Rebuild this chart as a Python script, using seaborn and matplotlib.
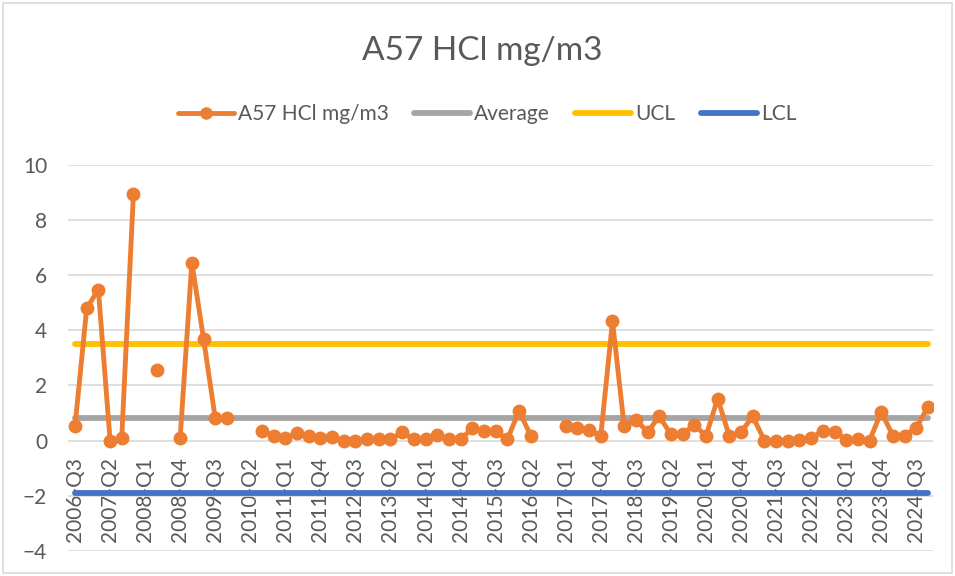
import numpy as np
import pandas as pd
import matplotlib
matplotlib.use("Agg")
import matplotlib.pyplot as plt
from matplotlib.lines import Line2D
from matplotlib.patches import Rectangle
import seaborn as sns

# --- Données ---
quarters = [f"{p.year}-Q{p.quarter}" for p in pd.period_range("2006Q3", "2024Q4", freq="Q")]
nan = np.nan
hcl_values = [0.52, 4.8, 5.48, 0.0, 0.1, 8.95, nan, 2.55, nan, 0.1,
              6.46, 3.7, 0.81, 0.8, nan, nan, 0.33, 0.17, 0.08, 0.27,
              0.17, 0.08, 0.12, 0.0, 0.0, 0.04, 0.04, 0.04, 0.3, 0.04,
              0.04, 0.21, 0.04, 0.04, 0.45, 0.33, 0.33, 0.04, 1.07, 0.18,
              nan, nan, 0.54, 0.45, 0.37, 0.18, 4.33, 0.52, 0.76, 0.3,
              0.88, 0.22, 0.22, 0.58, 0.16, 1.52, 0.16, 0.3, 0.88, 0.0,
              0.0, 0.0, 0.02, 0.1, 0.34, 0.3, 0.03, 0.05, 0.0, 1.03,
              0.18, 0.18, 0.46, 1.22]
average = 0.8
ucl = 3.49
lcl = -1.89

series_name = "A57 HCl mg/m3"
colors = {"data": "#ED7D31", "Average": "#A5A5A5", "UCL": "#FFC000", "LCL": "#4472C4"}
text_color = "#595959"

df = pd.DataFrame({"idx": np.arange(len(quarters)), "quarter": quarters, "value": hcl_values})
# segments continus pour garder les trous comme dans Excel
df["seg"] = df["value"].isna().cumsum()
df_pts = df.dropna()

sns.set_theme(style="white")
plt.rcParams["font.family"] = ["Lato", "DejaVu Sans"]

fig = plt.figure(figsize=(9.55, 5.76), dpi=100)
ax = fig.add_axes([68 / 955, 1 - 550.7 / 576, (933 - 68) / 955, (550.7 - 165) / 576])

# lignes de contrôle
for name, val in [("Average", average), ("UCL", ucl), ("LCL", lcl)]:
    sns.lineplot(x=df["idx"], y=[val] * len(df), color=colors[name], linewidth=4.2,
                 solid_capstyle="round", ax=ax, zorder=2)

# série principale
sns.lineplot(data=df_pts, x="idx", y="value", units="seg", estimator=None,
             color=colors["data"], linewidth=3.5, marker="o", markersize=10,
             markeredgewidth=0, solid_capstyle="round", ax=ax, zorder=3)

ax.set_ylim(-4, 10)
ax.set_yticks(range(-4, 11, 2))
ax.set_xlim(-0.6, 73.43)
ax.yaxis.grid(True, color="#D9D9D9", linewidth=1.2)
ax.set_axisbelow(True)
for s in ["top", "right", "left"]:
    ax.spines[s].set_visible(False)
ax.spines["bottom"].set_position(("data", 0))
ax.spines["bottom"].set_visible(False)

ax.set_xticks(df["idx"][::3])
ax.set_xticklabels(df["quarter"][::3], rotation=90)
ax.tick_params(axis="x", length=0, pad=12, labelsize=15, labelcolor=text_color)
ax.tick_params(axis="y", length=0, pad=15, labelsize=15, labelcolor=text_color)
ax.set_xlabel("")
ax.set_ylabel("")

fig.text(482 / 955, 1 - 51 / 576, series_name, ha="center", va="center",
         fontsize=24, color=text_color)

handles = [
    Line2D([], [], color=colors["data"], linewidth=3.5, marker="o", markersize=8,
           solid_capstyle="round"),
    Line2D([], [], color=colors["Average"], linewidth=4.2, solid_capstyle="round"),
    Line2D([], [], color=colors["UCL"], linewidth=4.2, solid_capstyle="round"),
    Line2D([], [], color=colors["LCL"], linewidth=4.2, solid_capstyle="round"),
]
fig.legend(handles, [series_name, "Average", "UCL", "LCL"], loc="center",
           bbox_to_anchor=(487 / 955, 1 - 114 / 576), ncol=4, frameon=False,
           fontsize=15, labelcolor=text_color, handlelength=2.7, handletextpad=0.2,
           columnspacing=1.2)

fig.patches.append(Rectangle((3 / 955, 3 / 576), 949 / 955, 570 / 576, transform=fig.transFigure,
                             fill=False, edgecolor="#D9D9D9", linewidth=1.2))

plt.savefig("out.png", dpi=100)
